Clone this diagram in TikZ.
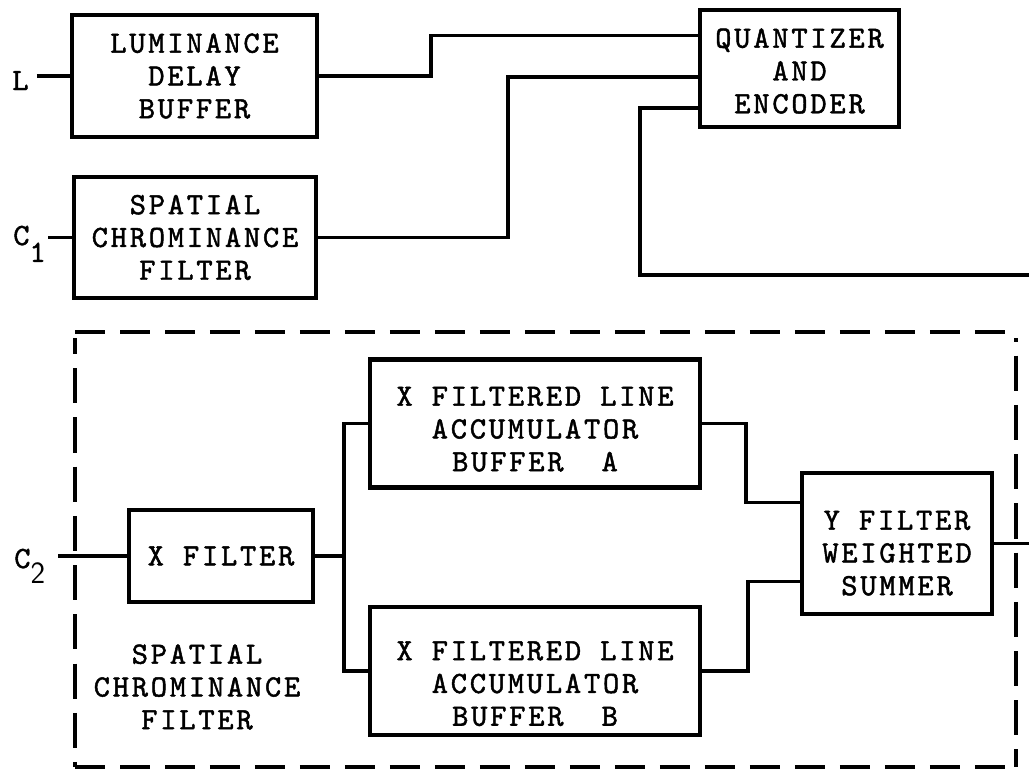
\documentclass[tikz,border=0pt]{standalone}
\usepackage{fontspec}
\setmonofont{lmmono10-regular.otf}[LetterSpace=9,FakeBold=1.5]
\usetikzlibrary{positioning,calc}
\newcommand{\pxu}{0.025cm}
\tikzset{
  tw/.style={font=\ttfamily\fontsize{22}{23.3}\selectfont},
  blk/.style={tw, draw, line width=3.2pt, inner sep=0pt, align=center},
  lab/.style={tw, inner sep=0pt, align=center},
  wire/.style={line width=2.6pt},
  frame/.style={line width=3pt, dash pattern=on 21pt off 11pt},
  framev/.style={frame, dash pattern=on 25pt off 10pt},
}
\begin{document}
\begin{tikzpicture}[x=0.025cm, y=-0.025cm]
  \useasboundingbox (0,0) rectangle (1029,775);
  % upper blocks
  \node[blk, minimum width=245*\pxu, minimum height=122*\pxu] (lum) at (194.5,76) {LUMINANCE\\DELAY\\BUFFER};
  \node[blk, minimum width=242*\pxu, minimum height=121*\pxu] (scf) at (195,237.5) {SPATIAL\\CHROMINANCE\\FILTER};
  \node[blk, minimum width=199*\pxu, minimum height=117*\pxu] (quant) at (799.5,68.5) {\\[-6pt]QUANTIZER\\AND\\ENCODER};
  \node[lab, anchor=base west] (llab) at (12,90) {L};
  \node[lab, anchor=base west] (c1lab) at (13,245) {C\raisebox{-12pt}{1}};
  % spatial chrominance filter for C2
  \draw[frame] (75,332) -- (1016,332);
  \draw[frame] (75,767) -- (1016,767);
  \draw[framev, dash phase=13.5pt] (75,338) -- (75,767);
  \draw[framev, dash phase=22.4pt] (1016,338) -- (1016,767);
  \node[blk, minimum width=184*\pxu, minimum height=92*\pxu] (xfil) at (221,556) {X FILTER};
  \foreach \n/\t/\y/\d in {bufa/A/423.5/-1.8pt, bufb/B/671/8.2pt}
    \node[blk, minimum width=330*\pxu, minimum height=128*\pxu] (\n) at (535,\y) {\\[\d]X FILTERED LINE\\ACCUMULATOR\\BUFFER~~\t};
  \node[blk, minimum width=190*\pxu, minimum height=141*\pxu] (summ) at (897,543.5) {\\[3.9pt]Y FILTER\\WEIGHTED\\SUMMER};
  \node[lab, anchor=base west] (c2lab) at (14,568) {C\raisebox{-10.7pt}{\sffamily 2}};
  \node[lab] (sclab) at (197,687) {SPATIAL\\CHROMINANCE\\FILTER};
  % ports
  \coordinate (qin1) at ($(quant.west)+(0,-33)$);
  \coordinate (qin2) at ($(quant.west)+(0,8.5)$);
  \coordinate (qin3) at ($(quant.west)+(0,39.5)$);
  \coordinate (fbout) at (1029,275);
  \coordinate (sin1) at ($(summ.west)+(0,-41)$);
  \coordinate (sin2) at ($(summ.west)+(0,38)$);
  \coordinate (sout) at (1029,543.5);
  \coordinate (lin) at ($(llab.east |- lum.west)+(8,0)$);
  \coordinate (c1in) at ($(c1lab.east |- scf.west)+(2,0)$);
  \coordinate (c2in) at ($(c2lab.east |- xfil.west)+(13,0)$);
  % wiring
  \draw[wire] (lin) -- (lum.west);
  \draw[wire] (c1in) -- (scf.west);
  \draw[wire] (lum.east) -| ($(qin1)+(-267,0)$) -- (qin1);
  \draw[wire] (scf.east) -| ($(qin2)+(-190,0)$) -- (qin2);
  \draw[wire] (qin3) -| ($(fbout)+(-389,0)$) -- (fbout);
  \draw[wire] (c2in) -- (xfil.west);
  \draw[wire] (xfil.east) -- ++(29,0) coordinate (fork);
  \draw[wire] (bufa.west) -| (fork) |- (bufb.west);
  \draw[wire] (bufa.east) -| ($(sin1)+(-54,0)$) -- (sin1);
  \draw[wire] (bufb.east) -| ($(sin2)+(-52,0)$) -- (sin2);
  \draw[wire] (summ.east) -- (sout);
\end{tikzpicture}
\end{document}
